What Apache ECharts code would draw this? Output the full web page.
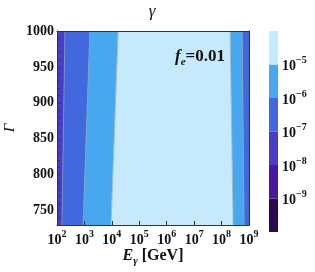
<!DOCTYPE html>
<html><head><meta charset="utf-8">
<script src="https://cdn.jsdelivr.net/npm/echarts@6/dist/echarts.min.js"></script>
<style>html,body{margin:0;padding:0;background:#fff}#c{width:315px;height:272px}</style>
</head><body><div id="c"></div>
<script>
// ---- data ----
const gammaEdges = [730, 1000];            // Γ at bottom / top of the contour lines
const contour1e7Left  = [2.18, 2.29];      // log10(Eγ/GeV) of the 1e-7 contour at gammaEdges
const contour1e6Left  = [2.95, 3.20];
const contour1e5Left  = [3.97, 4.23];
const contour1e5Right = [8.42, 8.31];
const contour1e6Right = [8.82, 8.75];
const xExpRange = [2, 9];
const levelExponents = [-10, -9, -8, -7, -6, -5, -4];
const colorbarLabelExponents = [-9, -8, -7, -6, -5];
const bandColors = ['#2a0852', '#4a169e', '#4a3cc4', '#4168dc', '#47a7ef', '#c6e9fb'];

const FONT = '"Liberation Serif","Times New Roman",serif';
const edgeL = [xExpRange[0], xExpRange[0]];
const edgeR = [xExpRange[1], xExpRange[1]];
const regions = [
  {band: 2, left: edgeL, right: contour1e7Left},
  {band: 3, left: contour1e7Left, right: contour1e6Left},
  {band: 3, left: contour1e6Right, right: edgeR},
  {band: 4, left: contour1e6Left, right: contour1e5Left},
  {band: 4, left: contour1e5Right, right: contour1e6Right},
  {band: 5, left: contour1e5Left, right: contour1e5Right}
];
const contours = [contour1e7Left, contour1e6Left, contour1e5Left, contour1e5Right, contour1e6Right];

const bands = [];
for (let i = 0; i < levelExponents.length - 1; i++) {
  bands.push([0, Math.pow(10, levelExponents[i]), Math.pow(10, levelExponents[i + 1]), i]);
}

const supRich = {
  b: {fontFamily: FONT, fontWeight: 'bold', fontSize: 14, color: '#111', lineHeight: 18, verticalAlign: 'bottom'},
  s: {fontFamily: FONT, fontWeight: 'bold', fontSize: 10, color: '#111', lineHeight: 10, verticalAlign: 'top'}
};
function powLabel(v) {
  const e = Math.round(Math.log10(v));
  return '{b|10}{s|' + String(e).replace('-', '\u2212') + '}';
}
function colorbarLabel(v) {
  const e = Math.round(Math.log10(v));
  return colorbarLabelExponents.indexOf(e) >= 0 ? powLabel(v) : '';
}

const chart = echarts.init(document.getElementById('c'), null, {renderer: 'canvas'});
chart.setOption({
  animation: false,
  grid: [
    {left: 57, top: 31, width: 192, height: 194},
    {left: 269, top: 31, width: 9, height: 201}
  ],
  xAxis: [
    {type: 'log', gridIndex: 0, min: Math.pow(10, xExpRange[0]), max: Math.pow(10, xExpRange[1]), logBase: 10,
     z: 10,
     axisLine: {show: true, lineStyle: {color: '#333', width: 1}},
     axisTick: {show: true, inside: true, length: 4, lineStyle: {color: '#333'}},
     axisLabel: {formatter: powLabel, rich: supRich, margin: 4},
     splitLine: {show: false}},
    {type: 'log', gridIndex: 0, position: 'top', min: Math.pow(10, xExpRange[0]), max: Math.pow(10, xExpRange[1]),
     z: 10, axisLine: {show: true, lineStyle: {color: '#333', width: 1}}, axisTick: {show: false},
     axisLabel: {show: false}, splitLine: {show: false}},
    {type: 'value', gridIndex: 1, min: 0, max: 1, show: false}
  ],
  yAxis: [
    {type: 'value', gridIndex: 0, min: gammaEdges[0], max: gammaEdges[1], interval: 10, z: 10,
     axisLine: {show: true, lineStyle: {color: '#333', width: 1}},
     axisTick: {show: true, inside: true, length: 3, lineStyle: {color: '#333'}},
     axisLabel: {formatter: v => (v % 50 === 0 ? String(v) : ''), fontFamily: FONT, fontWeight: 'bold',
       fontSize: 14, color: '#111', margin: 3},
     splitLine: {show: false}},
    {type: 'value', gridIndex: 0, position: 'right', min: gammaEdges[0], max: gammaEdges[1], z: 10,
     axisLine: {show: true, lineStyle: {color: '#333', width: 1}}, axisTick: {show: false},
     axisLabel: {show: false}, splitLine: {show: false}},
    {type: 'log', gridIndex: 1, position: 'right', min: Math.pow(10, levelExponents[0]),
     max: Math.pow(10, levelExponents[levelExponents.length - 1]), logBase: 10,
     axisLine: {show: false}, axisTick: {show: false}, splitLine: {show: false},
     axisLabel: {formatter: colorbarLabel, rich: supRich, margin: 4}}
  ],
  series: [
    {type: 'custom', xAxisIndex: 0, yAxisIndex: 0, z: 1, silent: true, clip: true,
     data: regions.map((r, i) => [1e5, 900, i]),
     renderItem: function (params, api) {
       const r = regions[params.dataIndex];
       const pts = [
         api.coord([Math.pow(10, r.left[0]), gammaEdges[0]]),
         api.coord([Math.pow(10, r.left[1]), gammaEdges[1]]),
         api.coord([Math.pow(10, r.right[1]), gammaEdges[1]]),
         api.coord([Math.pow(10, r.right[0]), gammaEdges[0]])
       ];
       return {type: 'polygon', shape: {points: pts},
               style: {fill: bandColors[r.band], stroke: bandColors[r.band], lineWidth: 0.5}};
     }},
    {type: 'custom', xAxisIndex: 0, yAxisIndex: 0, z: 2, silent: true,
     data: contours.map((c, i) => [1e5, 900, i]),
     renderItem: function (params, api) {
       const c = contours[params.dataIndex];
       const p0 = api.coord([Math.pow(10, c[0]), gammaEdges[0]]);
       const p1 = api.coord([Math.pow(10, c[1]), gammaEdges[1]]);
       return {type: 'line', shape: {x1: p0[0], y1: p0[1], x2: p1[0], y2: p1[1]},
               style: {stroke: 'rgba(150,165,180,0.8)', lineWidth: 0.8}};
     }},
    {type: 'custom', xAxisIndex: 2, yAxisIndex: 2, silent: true,
     data: bands,
     renderItem: function (params, api) {
       const a = api.coord([api.value(0), api.value(2)]);
       const b = api.coord([1, api.value(1)]);
       return {type: 'rect', shape: {x: a[0], y: a[1], width: b[0] - a[0], height: b[1] - a[1]},
               style: {fill: bandColors[api.value(3)]}};
     }}
  ],
  graphic: [
    {type: 'text', x: 152, y: 12, style: {text: 'γ', font: 'italic 17px ' + FONT, fill: '#111',
      align: 'center', verticalAlign: 'middle'}},
    {type: 'text', x: 10, y: 128, rotation: Math.PI / 2, style: {text: 'Γ', font: 'italic 15px ' + FONT,
      fill: '#111', align: 'center', verticalAlign: 'middle'}},
    {type: 'text', x: 153, y: 257, style: {
      text: '{e|E}{g|γ}{n| [GeV]}', align: 'center', verticalAlign: 'middle',
      rich: {
        e: {fontFamily: FONT, fontStyle: 'italic', fontWeight: 'bold', fontSize: 16, fill: '#111', lineHeight: 19, verticalAlign: 'top'},
        g: {fontFamily: FONT, fontStyle: 'italic', fontWeight: 'bold', fontSize: 11, fill: '#111', lineHeight: 11, verticalAlign: 'bottom'},
        n: {fontFamily: FONT, fontWeight: 'bold', fontSize: 16, fill: '#111', lineHeight: 19, verticalAlign: 'top'}
      }}},
    {type: 'text', x: 200, y: 58, z: 20, style: {
      text: '{f|f}{s|e}{n|=0.01}', align: 'center', verticalAlign: 'middle',
      rich: {
        f: {fontFamily: FONT, fontStyle: 'italic', fontWeight: 'bold', fontSize: 17, fill: '#111', lineHeight: 19, verticalAlign: 'top'},
        s: {fontFamily: FONT, fontStyle: 'italic', fontWeight: 'bold', fontSize: 11, fill: '#111', lineHeight: 11, verticalAlign: 'bottom'},
        n: {fontFamily: FONT, fontWeight: 'bold', fontSize: 17, fill: '#111', lineHeight: 19, verticalAlign: 'top'}
      }}}
  ]
});
</script></body></html>
